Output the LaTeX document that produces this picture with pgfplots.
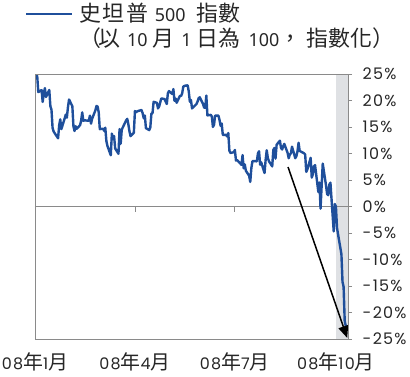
\documentclass[border=0pt]{standalone}
\usepackage{pgfplots}
\pgfplotsset{compat=1.18}
\usepackage{pgfplotstable}
\usepackage{fontspec}
\usetikzlibrary{arrows.meta}
\setmainfont{Poppins}
\newfontfamily\tickfont[LetterSpace=8]{Poppins}
\newfontfamily\cjk{Noto Sans CJK TC}
\newfontfamily\latin{Noto Sans}
\definecolor{spblue}{HTML}{1F4F9B}
\definecolor{band}{HTML}{DFE1E4}
\definecolor{axgray}{HTML}{8A8A8A}
\newcommand\nian{{\cjk\fontsize{20}{20}\selectfont 年}}
\newcommand\yue{{\cjk\fontsize{20}{20}\selectfont 月}}
\newcommand\tdig[1]{{\latin\fontsize{18}{18}\selectfont #1}}

\pgfplotstableread{
day pct
2 24.64
3 24.64
4 21.58
7 21.97
8 19.73
9 21.37
10 22.33
11 20.67
14 21.98
15 18.94
16 18.27
17 14.83
18 14.14
22 12.87
23 15.29
24 16.45
25 14.60
28 16.61
29 17.33
30 16.77
31 18.73
32 20.19
35 18.93
36 15.12
37 14.24
38 15.15
39 14.66
42 15.34
43 16.17
44 17.76
45 16.17
46 16.27
50 16.17
51 17.14
52 15.63
53 16.54
56 18.15
57 18.97
58 18.86
59 17.80
60 14.60
63 14.67
64 14.27
65 14.87
66 12.34
67 11.40
70 9.67
71 13.75
72 12.72
73 13.30
74 10.95
77 9.95
78 14.61
79 11.83
80 14.51
84 16.26
85 16.53
86 15.51
87 14.19
88 13.28
91 13.92
92 18.01
93 17.78
94 17.94
95 18.03
98 18.21
99 17.61
100 16.66
101 17.18
102 14.79
105 14.41
106 14.93
107 17.54
108 17.61
109 19.75
112 19.56
113 18.51
114 18.85
115 19.62
116 20.39
119 20.27
120 19.80
121 19.34
122 21.38
123 21.78
126 21.22
127 22.15
128 19.94
129 20.38
130 19.57
133 20.89
134 20.84
135 21.33
136 22.61
137 22.76
140 22.87
141 21.73
142 19.78
143 20.09
144 18.51
148 19.32
149 19.79
150 20.43
151 20.61
154 19.35
155 18.65
156 18.62
157 20.93
158 17.19
161 17.29
162 17.00
163 15.02
164 15.40
165 17.14
168 17.15
169 16.35
170 15.22
171 15.66
172 13.51
175 13.52
176 13.20
177 13.86
178 10.52
179 10.10
182 10.24
183 10.67
184 8.65
185 8.77
189 7.86
190 9.70
191 7.20
192 7.95
193 6.75
196 5.79
197 4.64
198 7.26
199 8.55
200 8.58
203 8.52
204 9.99
205 10.43
206 7.88
207 8.33
210 6.31
211 8.80
212 10.61
213 9.16
214 8.55
217 7.57
218 10.66
219 11.04
220 9.04
221 11.65
224 12.42
225 11.07
226 10.75
227 11.36
228 11.81
231 10.12
232 9.10
233 9.77
234 10.05
235 11.29
238 9.11
239 9.51
240 10.39
241 12.03
242 10.49
246 10.04
247 9.81
248 6.53
249 7.00
252 9.19
253 5.46
254 6.11
255 7.58
256 7.81
259 2.73
260 4.53
261 -0.40
262 3.91
263 8.10
266 3.96
267 2.34
268 2.14
269 4.14
270 4.50
273 -4.71
274 0.46
275 0.00
276 -4.03
277 -5.33
280 -8.97
281 -14.20
282 -15.17
283 -21.63
284 -22.55
}\spdata

\begin{document}
\begin{tikzpicture}
\path[use as bounding box] (0,0) rectangle (410bp,377bp);
\begin{axis}[
  at={(35bp,38bp)}, anchor=south west,
  width=313bp, height=265bp, scale only axis,
  xmin=1, xmax=286, ymin=-25, ymax=25,
  axis on top,
  axis line style={axgray, line width=0.8bp},
  xtick={1,92,183,275},
  xticklabels={{08\nian1\yue},{08\nian4\yue},{08\nian7\yue},{08\nian10\yue}},
  xtick style={draw=none},
  x tick label style={anchor=base, yshift=-26bp},
  ytick={-25,-20,-15,-10,-5,0,5,10,15,20,25},
  yticklabels={-25\%,-20\%,-15\%,-10\%,-5\%,0\%,5\%,10\%,15\%,20\%,25\%},
  yticklabel pos=right,
  ytick pos=right,
  tick align=outside,
  major tick length=4bp,
  ytick style={axgray, line width=0.8bp},
  y tick label style={anchor=west, inner sep=0pt, xshift=10.5bp},
  tick label style={font=\tickfont\fontsize{16}{18}\selectfont, text=black!85},
]
\fill[band] (axis cs:275,-25) rectangle (axis cs:286,25);
\draw[axgray, line width=0.8bp] (axis cs:1,0) -- (axis cs:286,0);
\pgfplotsinvokeforeach{1,92,183,275}{
  \draw[axgray, line width=0.8bp] (axis cs:#1,0) -- ([yshift=-6bp]axis cs:#1,0);
}
\draw[axgray, line width=0.8bp] (axis cs:286,0) -- ([xshift=4bp]axis cs:286,0);
\addplot[spblue, line width=2.4bp, line join=round] table[x=day, y=pct] {\spdata};
\draw[black, line width=1.5bp, -{Triangle[length=12bp,width=10bp]}] (axis cs:231.4,7.45) -- (axis cs:285.3,-24.8);
\end{axis}
\draw[spblue, line width=2.5bp] (26bp,363bp) -- (72bp,363bp);
\node[anchor=base west, inner sep=0pt, font=\cjk\fontsize{22}{24}\selectfont, text=black!85] at (79bp,355.5bp) {史\hspace{1.5bp}坦\hspace{1.5bp}普\hspace{7bp}\tdig{500}\hspace{11bp}指數};
\node[anchor=base west, inner sep=0pt, font=\cjk\fontsize{22}{24}\selectfont, text=black!85] at (79bp,330bp) {（\hspace{-3bp}以\hspace{7bp}\tdig{10}\hspace{5bp}月\hspace{7bp}\tdig{1}\hspace{5bp}日為\hspace{8bp}\tdig{100}，\hspace{5bp}指數化）};
\end{tikzpicture}
\end{document}
